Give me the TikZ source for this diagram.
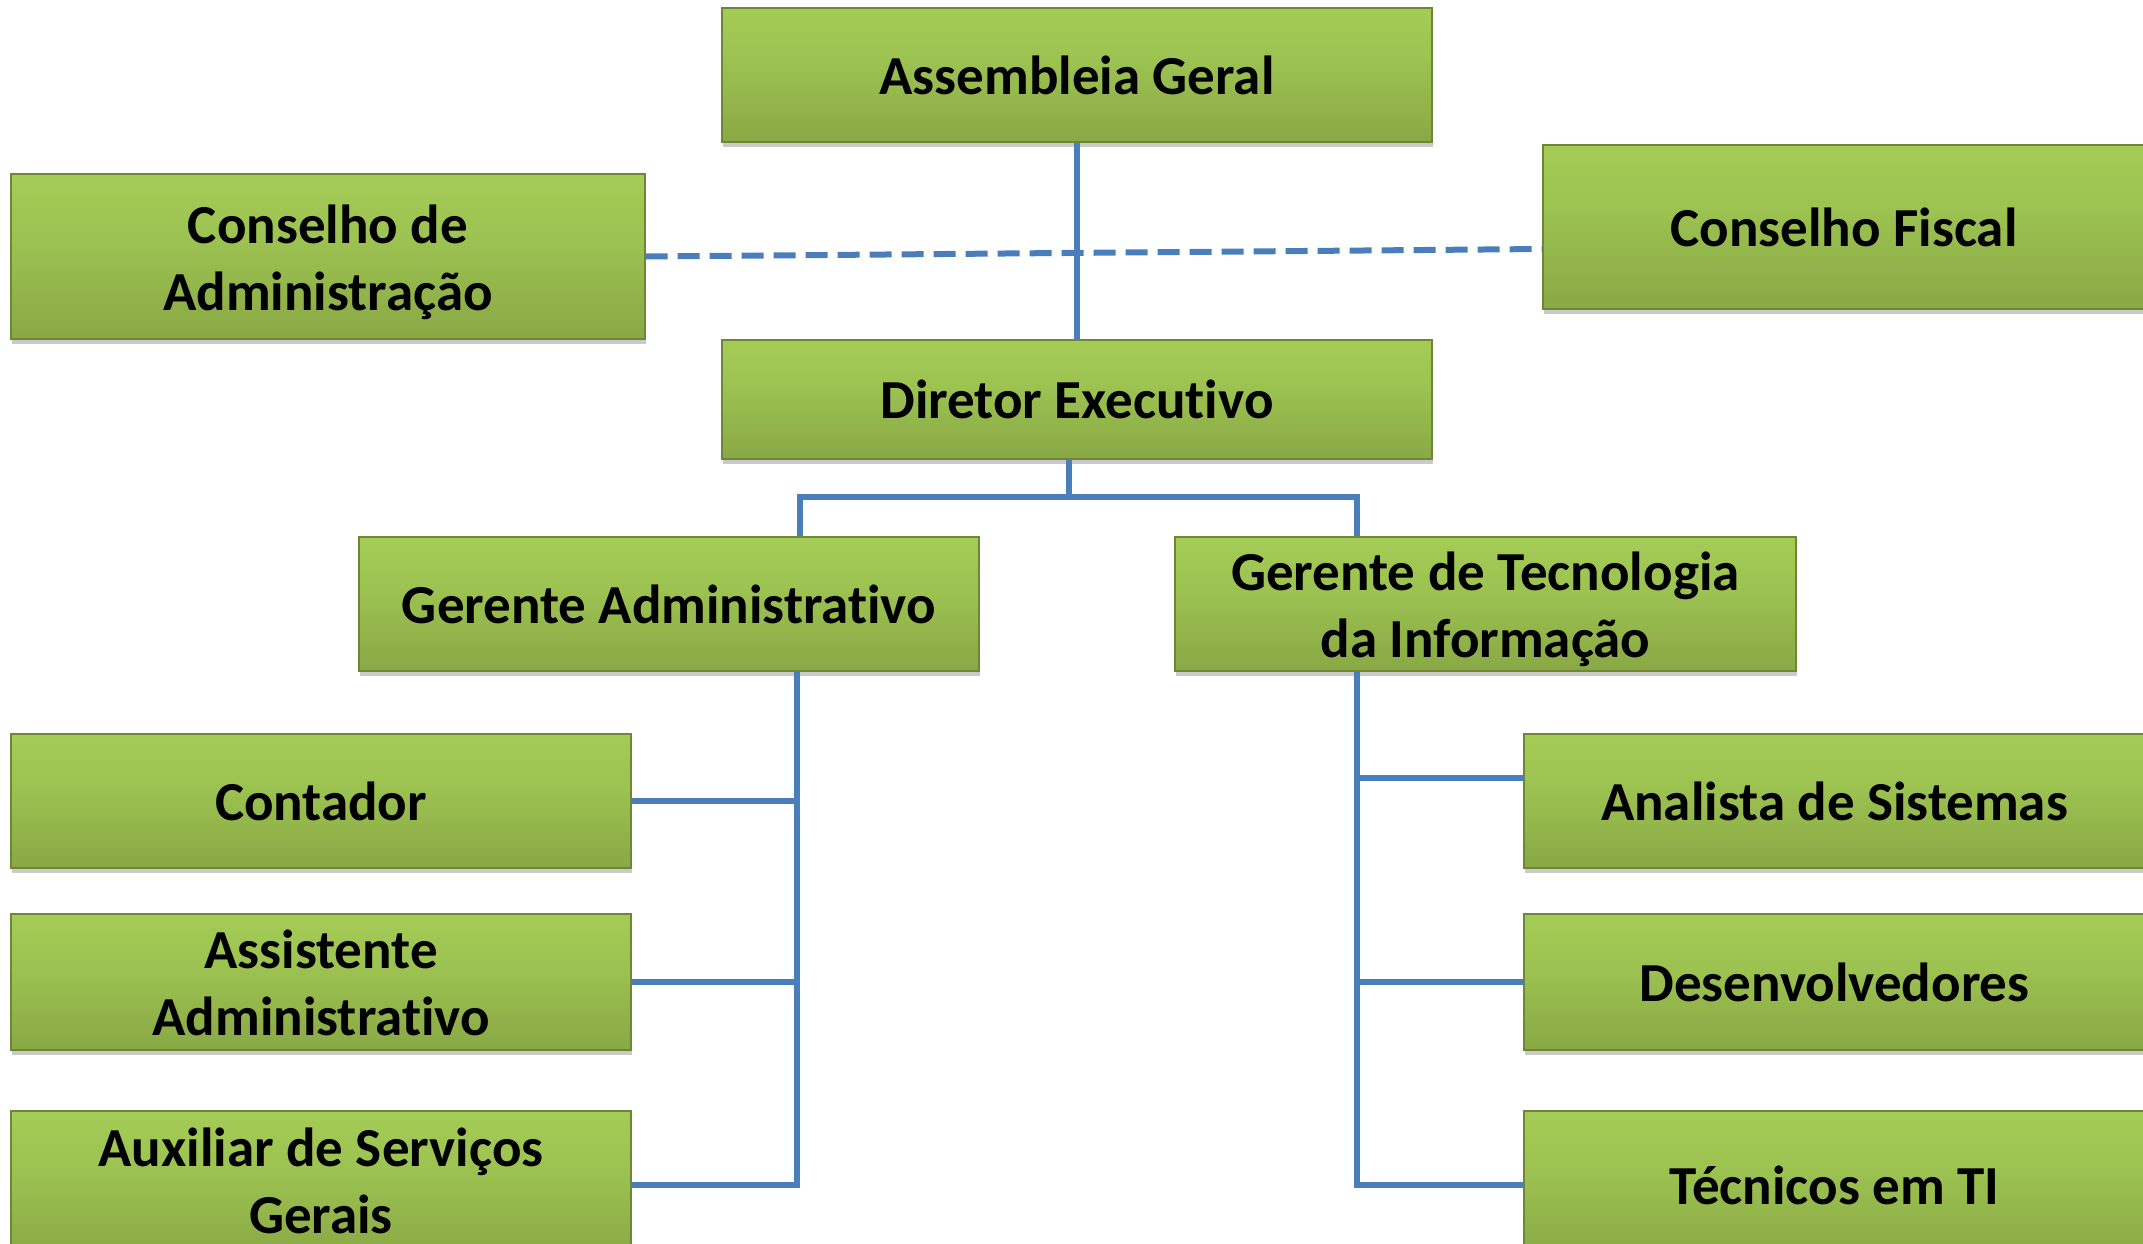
\documentclass[tikz,border=0pt]{standalone}
\usepackage{fontspec}
\setmainfont{Carlito}[RawFeature={-liga}]
\usetikzlibrary{shadows}
\definecolor{gtop}{HTML}{D2EF8A}
\definecolor{gmain}{HTML}{A8D158}
\definecolor{gmid}{HTML}{9CC251}
\definecolor{gbot}{HTML}{86A443}
\definecolor{gedge}{HTML}{6E8736}
\definecolor{linkblue}{HTML}{4A7EBB}
\pgfdeclareverticalshading{boxgreen}{100bp}{color(0bp)=(gedge); color(3bp)=(gbot); color(20bp)=(gbot); color(55bp)=(gmid); color(85bp)=(gmain); color(94bp)=(gmain); color(98bp)=(gtop); color(100bp)=(gtop)}
\begin{document}
\begin{tikzpicture}[x=0.5pt,y=-0.5pt,
  box/.style={rectangle, draw=gedge, line width=0.6pt, shading=boxgreen,
    drop shadow={shadow xshift=0.6pt, shadow yshift=-2.5pt, opacity=0.35, fill=black!60},
    font=\fontsize{27.5}{33.5}\selectfont\bfseries, align=center, inner sep=0pt},
  lbl/.style={font=\fontsize{27.5}{33.5}\selectfont\bfseries, align=center, inner sep=0pt, yshift=-2.7pt},
  conn/.style={draw=linkblue, line width=3pt},
  dashconn/.style={draw=linkblue, line width=3pt, dash pattern=on 11pt off 5pt}]
\useasboundingbox (0,0) rectangle (2143,1243);
% nodes
\node[box, minimum width=355pt, minimum height=67pt] (ag) at (1077,75) {Assembleia Geral};
\node[box, minimum width=317pt, minimum height=82.5pt, label={[lbl]center:{Conselho de\\Administração}}] (ca) at (328,256.5) {};
\node[box, minimum width=301pt, minimum height=82pt] (cf) at (1844,227) {Conselho Fiscal};
\node[box, minimum width=355pt, minimum height=59.5pt] (de) at (1077,399.5) {Diretor Executivo};
\node[box, minimum width=310pt, minimum height=67pt] (ga) at (669,604) {Gerente Administrativo};
\node[box, minimum width=310.5pt, minimum height=67pt, label={[lbl]center:{Gerente de Tecnologia\\da Informação}}] (gt) at (1485.5,604) {};
\node[box, minimum width=310pt, minimum height=67pt] (ct) at (321,801) {Contador};
\node[box, minimum width=310pt, minimum height=68pt, label={[lbl, yshift=2.2pt]center:{Assistente\\Administrativo}}] (as) at (321,982) {};
\node[box, minimum width=310pt, minimum height=74pt, label={[lbl, yshift=4.7pt]center:{Auxiliar de Serviços\\Gerais}}] (ax) at (321,1185) {};
\node[box, minimum width=310.5pt, minimum height=67pt] (an) at (1834.5,801) {Analista de Sistemas};
\node[box, minimum width=310.5pt, minimum height=68pt] (dv) at (1834.5,982) {Desenvolvedores};
\node[box, minimum width=310.5pt, minimum height=74pt] (tc) at (1834.5,1185) {Técnicos em TI};
% connectors
\draw[conn] (ag.south) -- (de.north);
\draw[dashconn] (ca.east) -- ([yshift=-11pt]cf.west);
\coordinate (bl) at (800,497);
\coordinate (br) at (1357,497);
\coordinate (ls) at (797,1185);
\draw[conn] ([xshift=-4pt]de.south) -- ([xshift=-4pt]de.south |- bl);
\draw[conn] (ga.north -| bl) -- (bl) -- (br) -- (gt.north -| br);
\draw[conn] (ga.south -| ls) -- (ls) -- (ax.east);
\draw[conn] (ct.east) -- (ct.east -| ls);
\draw[conn] (as.east) -- (as.east -| ls);
\draw[conn] (gt.south -| br) -- (tc.west -| br) -- (tc.west);
\draw[conn] ([yshift=11.5pt]an.west) -- ([yshift=11.5pt]an.west -| br);
\draw[conn] (dv.west) -- (dv.west -| br);
\end{tikzpicture}
\end{document}
